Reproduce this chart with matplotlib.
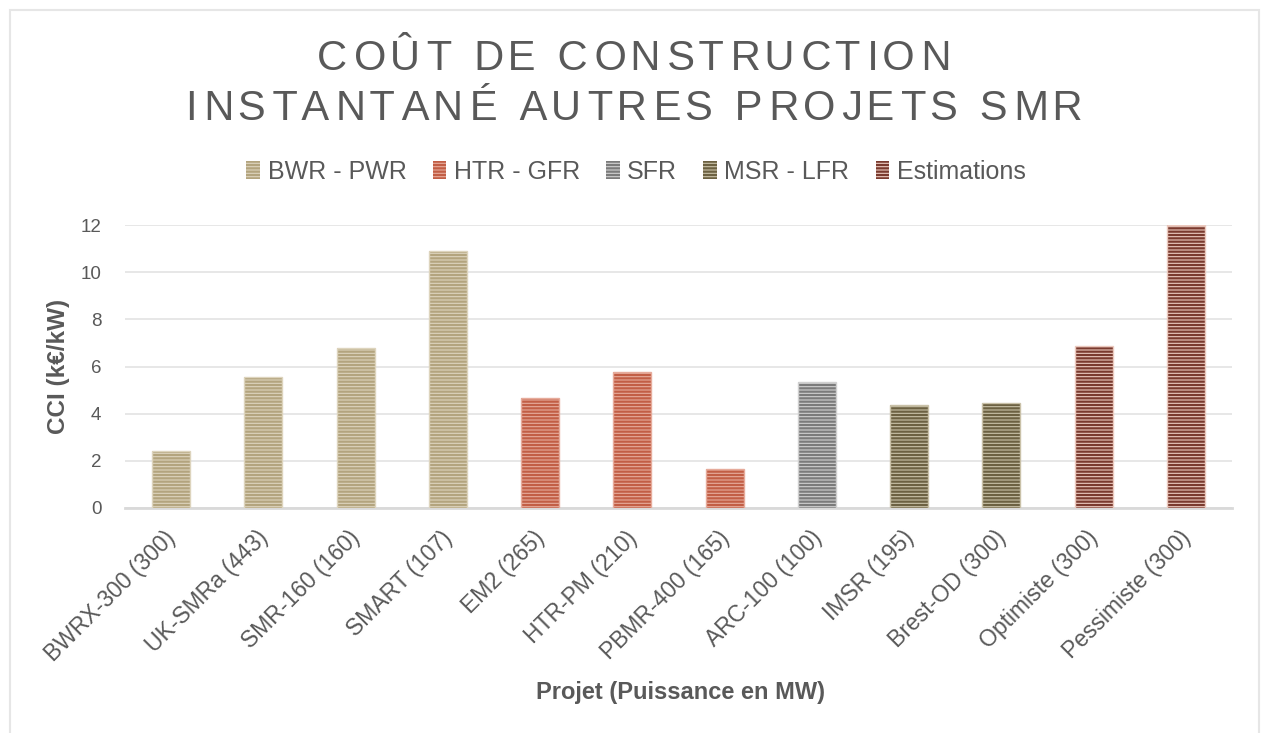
import numpy as np
import matplotlib.pyplot as plt
from matplotlib.patches import Rectangle
from matplotlib.transforms import ScaledTranslation

plt.rcParams['font.family'] = ['Liberation Sans', 'DejaVu Sans']
plt.rcParams['hatch.linewidth'] = 1.6

# data
projets = ['BWRX-300 (300)', 'UK-SMRa (443)', 'SMR-160 (160)', 'SMART (107)',
           'EM2 (265)', 'HTR-PM (210)', 'PBMR-400 (165)', 'ARC-100 (100)',
           'IMSR (195)', 'Brest-OD (300)', 'Optimiste (300)', 'Pessimiste (300)']
cci = [2.4, 5.57, 6.77, 10.9, 4.67, 5.78, 1.65, 5.35, 4.35, 4.47, 6.87, 12.0]
filieres = ['BWR - PWR', 'HTR - GFR', 'SFR', 'MSR - LFR', 'Estimations']
groupe = [0, 0, 0, 0, 1, 1, 1, 2, 3, 3, 4, 4]

fond = ['#ddd4bd', '#e6ab9b', '#d0d0d0', '#c9c1a8', '#ebc9be']
raie = ['#b3a47e', '#c25e45', '#7b7b7b', '#6c6142', '#7a3a2e']
gris = '#595959'

W, H = 1261, 733
fig = plt.figure(figsize=(W / 100, H / 100), dpi=100)
ax = fig.add_axes([125 / W, 1 - 508 / H, (1232 - 125) / W, (508 - 225) / H])

x = np.arange(len(projets))
for g, nom in enumerate(filieres):
    idx = [i for i in range(len(projets)) if groupe[i] == g]
    ax.bar(x[idx], [cci[i] for i in idx], width=0.41, color=fond[g],
           edgecolor=raie[g], hatch='-----', linewidth=0, label=nom, zorder=3)
    # thin outline in light tone
    ax.bar(x[idx], [cci[i] for i in idx], width=0.41, color='none',
           edgecolor=fond[g], linewidth=1, zorder=4)

ax.set_xlim(-0.5, len(projets) - 0.5)
ax.set_ylim(0, 12)
ax.set_yticks(range(0, 13, 2))
ax.grid(axis='y', color='#e3e3e3', linewidth=1.2, zorder=0)
for s in ['top', 'right', 'left']:
    ax.spines[s].set_visible(False)
ax.spines['bottom'].set_color('#d9d9d9')
ax.spines['bottom'].set_linewidth(2)
ax.tick_params(length=0, colors=gris)
ax.tick_params(axis='y', labelsize=13.5, pad=17)
ax.tick_params(axis='x', labelsize=16.5, pad=14)
ax.set_xticks(x)
ax.set_xticklabels(projets, rotation=45, ha='right', rotation_mode='anchor')
decal = ScaledTranslation(-7 / 100, 1 / 100, fig.dpi_scale_trans)
for t in ax.get_xticklabels():
    t.set_transform(t.get_transform() + decal)

fig.text(59 / W, 1 - 366 / H, 'CCI (k€/kW)', rotation=90, ha='center', va='center',
         fontsize=17.5, fontweight='bold', color=gris)
fig.text(680 / W, 1 - 692 / H, 'Projet (Puissance en MW)', ha='center', va='center',
         fontsize=17, fontweight='bold', color=gris)

leg = fig.legend(loc='center', bbox_to_anchor=(636 / W, 1 - 172 / H), ncol=5, frameon=False,
                 fontsize=18, handlelength=0.55, handleheight=0.75, handletextpad=0.3,
                 columnspacing=1.04, labelcolor=gris)

# wide letter spacing of the title: alternate six-per-em and hair spaces
titre = ['COÛT DE CONSTRUCTION', 'INSTANTANÉ AUTRES PROJETS SMR']
for k, ligne in enumerate(titre):
    s = ligne[0]
    for j, c in enumerate(ligne[1:]):
        s += ('\u2006' if j % 2 == 0 else '\u200a') + c
    fig.text(634 / W, 1 - (59 + 50 * k) / H, s, ha='center', va='center',
             fontsize=30, color=gris)

fig.add_artist(Rectangle((10 / W, -0.01), 1249 / W, 1 - 10 / H + 0.01, transform=fig.transFigure,
                         fill=False, edgecolor='#e6e6e6', linewidth=1.5))

fig.savefig('out.png', dpi=100)
